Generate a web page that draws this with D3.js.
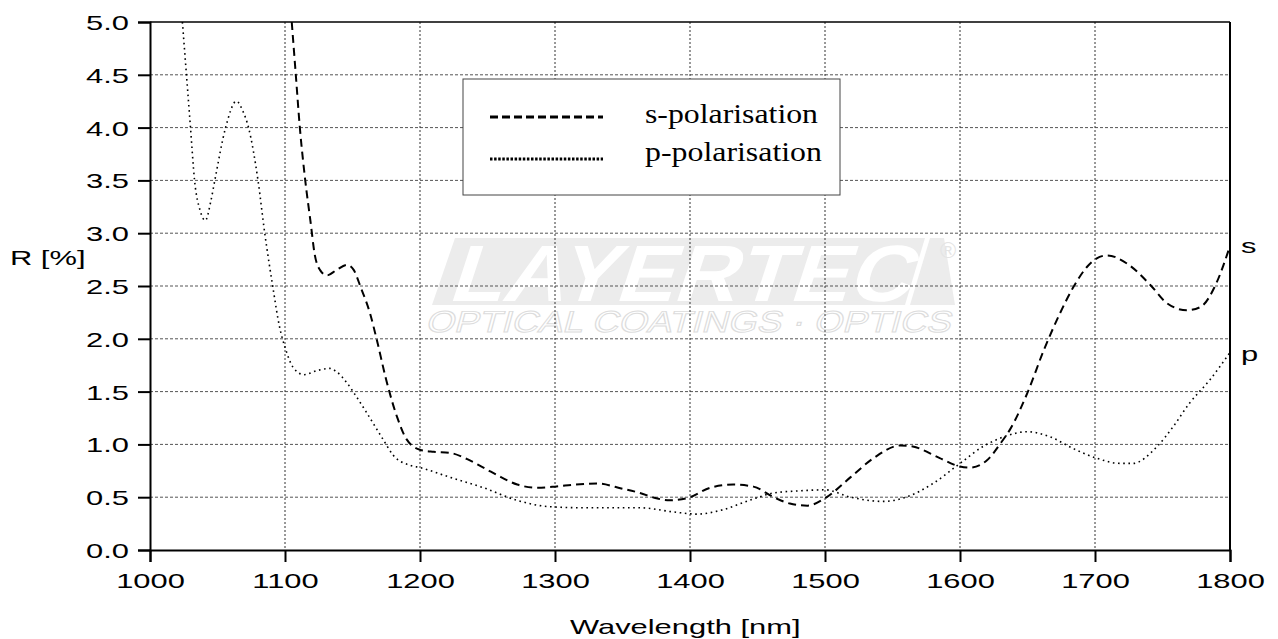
<!DOCTYPE html>
<html>
<head>
<meta charset="utf-8">
<script src="https://cdnjs.cloudflare.com/ajax/libs/d3/7.8.5/d3.min.js"></script>
<style>
  body { margin: 0; background: #fff; }
</style>
</head>
<body>
<script>
// values
var xTicks = [1000, 1100, 1200, 1300, 1400, 1500, 1600, 1700, 1800];
var yTicks = [0, 0.5, 1, 1.5, 2, 2.5, 3, 3.5, 4, 4.5, 5];

var sWave = [1105, 1108, 1111, 1115, 1119, 1122, 1126, 1131, 1138, 1146, 1151, 1156, 1163, 1168, 1175, 1183, 1190, 1200, 1210, 1222, 1235, 1247, 1260, 1272, 1287, 1300, 1315, 1331, 1350, 1363, 1375, 1385, 1400, 1415, 1432, 1447, 1462, 1474, 1487, 1500, 1519, 1536, 1556, 1565, 1585, 1600, 1607, 1620, 1630, 1637, 1650, 1662, 1674, 1684, 1694, 1701, 1709, 1724, 1741, 1753, 1768, 1778, 1790, 1800];
var sRefl = [5.0, 4.5, 4.0, 3.5, 3.1, 2.8, 2.65, 2.6, 2.65, 2.7, 2.65, 2.49, 2.24, 1.99, 1.61, 1.26, 1.05, 0.95, 0.93, 0.92, 0.86, 0.78, 0.69, 0.62, 0.59, 0.6, 0.62, 0.63, 0.58, 0.54, 0.49, 0.47, 0.5, 0.59, 0.62, 0.6, 0.5, 0.44, 0.42, 0.49, 0.69, 0.87, 0.99, 0.98, 0.87, 0.79, 0.78, 0.85, 1.01, 1.14, 1.49, 1.89, 2.24, 2.49, 2.68, 2.76, 2.79, 2.71, 2.51, 2.34, 2.27, 2.3, 2.53, 2.88];

var pWave = [1024, 1027, 1030, 1033, 1037, 1041, 1045, 1048, 1056, 1064, 1069, 1073, 1080, 1085, 1091, 1096, 1100, 1106, 1114, 1124, 1133, 1138, 1146, 1153, 1160, 1173, 1180, 1193, 1200, 1222, 1247, 1272, 1296, 1321, 1345, 1363, 1388, 1405, 1424, 1444, 1462, 1481, 1500, 1519, 1543, 1560, 1580, 1600, 1617, 1630, 1650, 1667, 1684, 1701, 1719, 1728, 1746, 1758, 1770, 1785, 1800];
var pRefl = [5.0, 4.5, 4.0, 3.5, 3.22, 3.12, 3.3, 3.5, 4.0, 4.25, 4.15, 4.0, 3.5, 3.0, 2.49, 2.11, 1.92, 1.73, 1.66, 1.7, 1.72, 1.69, 1.58, 1.45, 1.31, 1.04, 0.9, 0.8, 0.78, 0.69, 0.59, 0.47, 0.41, 0.4, 0.4, 0.4, 0.36, 0.34, 0.38, 0.47, 0.54, 0.56, 0.57, 0.5, 0.46, 0.5, 0.63, 0.82, 0.98, 1.06, 1.12, 1.07, 0.96, 0.87, 0.82, 0.82, 0.98, 1.17, 1.39, 1.61, 1.87];

var width = 1278, height = 639;
var plotLeft = 150, plotRight = 1230, plotTop = 22, plotBottom = 550;
var stretch = 1.47; // the original's sans labels are drawn wide

var svg = d3.select("body").append("svg")
  .attr("width", width)
  .attr("height", height)
  .attr("font-family", "Liberation Sans, Arial, sans-serif");

var x = d3.scaleLinear().domain([1000, 1800]).range([plotLeft, plotRight]);
var y = d3.scaleLinear().domain([0, 5]).range([plotBottom, plotTop]);

function widen(sel, k) {
  sel.each(function() {
    var w = this.getComputedTextLength();
    d3.select(this).attr("textLength", w * k).attr("lengthAdjust", "spacingAndGlyphs");
  });
}

// watermark
var wm = svg.append("g");
wm.append("path")
  .attr("d", "M455,238 L925,238 L905,305 L432,305 Z")
  .attr("fill", "#ececec");
wm.append("path")
  .attr("d", "M930,238 L944,238 L955,305 L910,305 Z")
  .attr("fill", "#ececec");
wm.append("text")
  .attr("transform", "translate(447,301) skewX(-18)")
  .attr("fill", "#fff")
  .attr("font-size", 80)
  .attr("font-weight", "bold")
  .attr("textLength", 462)
  .attr("lengthAdjust", "spacingAndGlyphs")
  .text("LAYERTEC");
wm.append("text")
  .attr("x", 940).attr("y", 258)
  .attr("fill", "#e4e4e4")
  .attr("font-size", 22)
  .text("®");
wm.append("text")
  .attr("transform", "translate(425,332) skewX(-15)")
  .attr("fill", "none")
  .attr("stroke", "#dcdcdc")
  .attr("stroke-width", 1)
  .attr("font-size", 30)
  .attr("textLength", 525)
  .attr("lengthAdjust", "spacingAndGlyphs")
  .text("OPTICAL COATINGS · OPTICS");

// grid
svg.append("g").selectAll("line")
  .data(yTicks.slice(1, -1))
  .join("line")
  .attr("x1", plotLeft).attr("x2", plotRight)
  .attr("y1", d => y(d)).attr("y2", d => y(d))
  .attr("stroke", "#555")
  .attr("stroke-dasharray", "3,2");

svg.append("g").selectAll("line")
  .data(xTicks.slice(1, -1))
  .join("line")
  .attr("x1", d => x(d)).attr("x2", d => x(d))
  .attr("y1", plotTop).attr("y2", plotBottom)
  .attr("stroke", "#333")
  .attr("stroke-dasharray", "2,2");

// frame top/right
svg.append("line").attr("x1", plotLeft).attr("x2", plotRight).attr("y1", plotTop).attr("y2", plotTop)
  .attr("stroke", "#000").attr("stroke-width", 1.5);
svg.append("line").attr("x1", plotRight).attr("x2", plotRight).attr("y1", plotTop).attr("y2", plotBottom)
  .attr("stroke", "#000").attr("stroke-width", 2);

// axes
var xAxis = svg.append("g")
  .attr("transform", "translate(0," + plotBottom + ")")
  .call(d3.axisBottom(x).tickValues(xTicks).tickSize(12).tickPadding(9).tickFormat(d3.format("d")));
var yAxis = svg.append("g")
  .attr("transform", "translate(" + plotLeft + ",0)")
  .call(d3.axisLeft(y).tickValues(yTicks).tickSize(12).tickPadding(9).tickFormat(d3.format(".1f")));

[xAxis, yAxis].forEach(function(a) {
  a.attr("font-family", null).attr("font-size", null);
  a.select(".domain").attr("stroke", "#000").attr("stroke-width", 2);
  a.selectAll(".tick line").attr("stroke", "#000").attr("stroke-width", 2);
  a.selectAll(".tick text")
    .attr("fill", "#000")
    .attr("font-size", 21)
    .call(widen, stretch);
});
xAxis.selectAll(".tick text").attr("dy", "0.8em");
yAxis.selectAll(".tick text").attr("dy", "0.36em");

// curves
svg.append("clipPath").attr("id", "plot")
  .append("rect").attr("x", plotLeft).attr("y", plotTop)
  .attr("width", plotRight - plotLeft).attr("height", plotBottom - plotTop);

var line = d3.line()
  .x(d => x(d[0]))
  .y(d => y(d[1]))
  .curve(d3.curveMonotoneX);

var sData = d3.zip(sWave, sRefl);
var pData = d3.zip(pWave, pRefl);

svg.append("path")
  .datum(pData)
  .attr("clip-path", "url(#plot)")
  .attr("d", line)
  .attr("fill", "none")
  .attr("stroke", "#000")
  .attr("stroke-width", 1.6)
  .attr("stroke-dasharray", "1.6,3.6");

svg.append("path")
  .datum(sData)
  .attr("clip-path", "url(#plot)")
  .attr("d", line)
  .attr("fill", "none")
  .attr("stroke", "#000")
  .attr("stroke-width", 2)
  .attr("stroke-dasharray", "8,5");

// end labels
svg.append("text").attr("x", 1241).attr("y", 253).attr("font-size", 21).text("s").call(widen, stretch);
svg.append("text").attr("x", 1241).attr("y", 361).attr("font-size", 21).text("p").call(widen, stretch);

// axis titles
svg.append("text").attr("x", 10).attr("y", 265).attr("font-size", 21).text("R [%]").call(widen, stretch);
svg.append("text").attr("x", 570).attr("y", 634)
  .attr("font-size", 21).text("Wavelength [nm]").call(widen, stretch);

// legend
var legend = svg.append("g");
legend.append("rect")
  .attr("x", 463).attr("y", 79).attr("width", 377).attr("height", 116)
  .attr("fill", "#fff").attr("stroke", "#444").attr("stroke-width", 1);
legend.append("line")
  .attr("x1", 490).attr("x2", 603).attr("y1", 117).attr("y2", 117)
  .attr("stroke", "#000").attr("stroke-width", 3).attr("stroke-dasharray", "8,4");
legend.append("line")
  .attr("x1", 490).attr("x2", 603).attr("y1", 159).attr("y2", 159)
  .attr("stroke", "#000").attr("stroke-width", 3).attr("stroke-dasharray", "2.5,1.6");
legend.append("text")
  .attr("x", 645).attr("y", 123)
  .attr("font-family", "Liberation Serif, Times New Roman, serif")
  .attr("font-size", 28)
  .attr("textLength", 173).attr("lengthAdjust", "spacingAndGlyphs")
  .text("s-polarisation");
legend.append("text")
  .attr("x", 645).attr("y", 161)
  .attr("font-family", "Liberation Serif, Times New Roman, serif")
  .attr("font-size", 28)
  .attr("textLength", 177).attr("lengthAdjust", "spacingAndGlyphs")
  .text("p-polarisation");
</script>
</body>
</html>
